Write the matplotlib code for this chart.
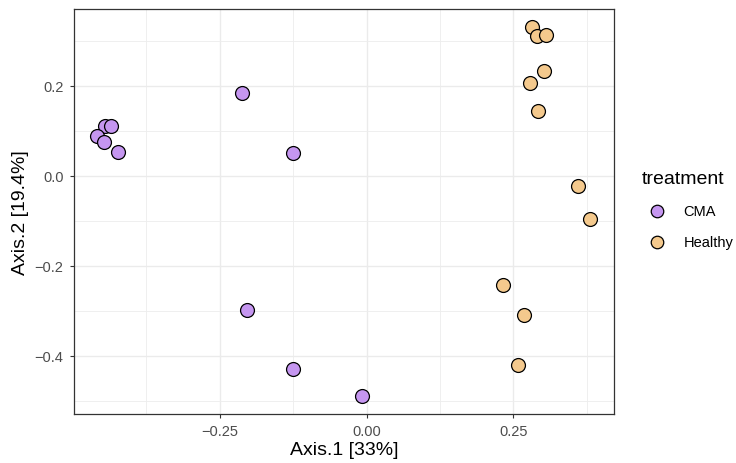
import numpy as np
import matplotlib
matplotlib.use("Agg")
import matplotlib.pyplot as plt
from matplotlib.ticker import MultipleLocator

plt.rcParams['font.family'] = ['Liberation Sans', 'DejaVu Sans']

# PCoA coordinates
cma_x = [-0.213, -0.126, -0.445, -0.435, -0.459, -0.447, -0.423, -0.203, -0.126, -0.007]
cma_y = [0.184, 0.051, 0.111, 0.111, 0.089, 0.076, 0.053, -0.298, -0.429, -0.489]
healthy_x = [0.282, 0.291, 0.305, 0.302, 0.279, 0.292, 0.361, 0.380, 0.232, 0.268, 0.258]
healthy_y = [0.331, 0.310, 0.313, 0.233, 0.207, 0.145, -0.023, -0.096, -0.242, -0.310, -0.421]

groups = ["CMA", "Healthy"]
colors = ["#C596F0", "#F4C98D"]

fig = plt.figure(figsize=(7.36, 4.64), dpi=100)
ax = fig.add_axes([74/736, 49/464, (614-74)/736, (415-10)/464])

for name, xs, ys, c in zip(groups, [cma_x, healthy_x], [cma_y, healthy_y], colors):
    ax.scatter(xs, ys, s=100, c=c, edgecolors="black", linewidths=0.9, label=name, zorder=3)

ax.set_xlim(-0.4985, 0.4215)
ax.set_ylim(-0.529, 0.371)
ax.xaxis.set_major_locator(MultipleLocator(0.25))
ax.xaxis.set_minor_locator(MultipleLocator(0.125))
ax.yaxis.set_major_locator(MultipleLocator(0.2))
ax.yaxis.set_minor_locator(MultipleLocator(0.1))
ax.xaxis.set_major_formatter(plt.FuncFormatter(lambda v, p: f"{v:.2f}".replace("-", "\u2212")))
ax.yaxis.set_major_formatter(plt.FuncFormatter(lambda v, p: f"{v:.1f}".replace("-", "\u2212")))

# theme_bw-like grid
ax.grid(which="major", color="#EBEBEB", linewidth=1.0, zorder=0)
ax.grid(which="minor", color="#EDEDED", linewidth=0.6, zorder=0)
ax.set_axisbelow(True)
for sp in ax.spines.values():
    sp.set_color("#333333")
    sp.set_linewidth(0.9)
ax.tick_params(which="major", length=3, width=0.8, color="#333333", labelcolor="#4D4D4D",
               labelsize=10.5, pad=4.5)
ax.tick_params(which="minor", length=0)

ax.set_xlabel("Axis.1 [33%]", fontsize=14, labelpad=2)
ax.set_ylabel("Axis.2 [19.4%]", fontsize=14, labelpad=4)

leg = fig.legend(loc="upper left", bbox_to_anchor=(642/736, 1 - 171/464), title="treatment",
                 frameon=False, fontsize=10.5, title_fontsize=14, markerscale=0.9,
                 handletextpad=0.8, labelspacing=1.15, borderpad=0, borderaxespad=0,
                 handlelength=2.05)
leg._legend_box.align = "left"

fig.savefig("out.png", dpi=100)
